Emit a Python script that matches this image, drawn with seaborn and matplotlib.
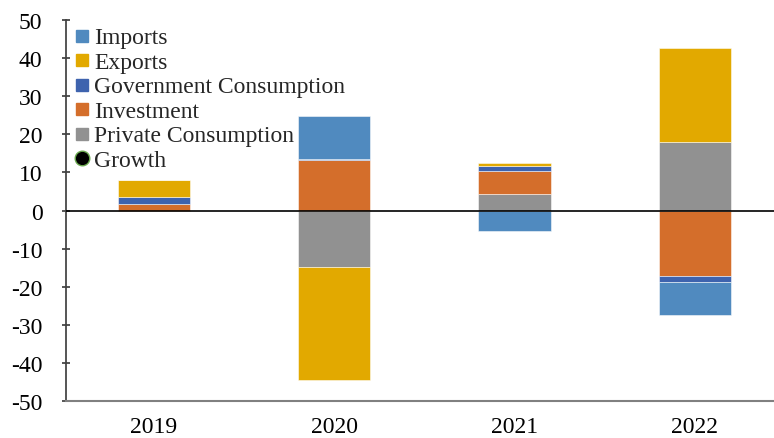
import numpy as np
import matplotlib
matplotlib.use("Agg")
import matplotlib.pyplot as plt
import seaborn as sns
from matplotlib.lines import Line2D

# contributions to growth, percentage points
years = ["2019", "2020", "2021", "2022"]
private_consumption = [0.0, -14.9, 4.3, 17.9]
investment = [1.7, 13.2, 6.2, -17.3]
government_consumption = [1.9, 0.4, 1.2, -1.5]
exports = [4.5, -29.5, 0.8, 24.7]
imports = [0.0, 11.1, -5.5, -8.6]

series = [
    ("Private Consumption", private_consumption, "#919191"),
    ("Investment", investment, "#d46e2b"),
    ("Government Consumption", government_consumption, "#3e63ae"),
    ("Exports", exports, "#e2a900"),
    ("Imports", imports, "#508abf"),
]

sns.set_theme(style="ticks")
plt.rcParams["font.family"] = ["Liberation Serif", "DejaVu Serif"]
plt.rcParams["axes.unicode_minus"] = False

fig = plt.figure(figsize=(7.74, 4.39), dpi=100)
ax = fig.add_axes([0.0853, 0.0843, 0.9147, 0.8677])

x = np.arange(len(years))
pos_base = np.zeros(len(years))
neg_base = np.zeros(len(years))
for name, vals, col in series:
    v = np.array(vals)
    bottom = np.where(v >= 0, pos_base, neg_base)
    ax.bar(x, v, width=0.4, bottom=bottom, color=col, edgecolor="#ffffff99",
           linewidth=0.6, zorder=2)
    pos_base += np.where(v >= 0, v, 0)
    neg_base += np.where(v < 0, v, 0)

ax.axhline(0, color="black", lw=1.2, zorder=3)

ax.set_xlim(-0.488, 3.44)
ax.set_ylim(-50, 50)
ax.set_yticks(range(-50, 51, 10))
ax.set_xticks(x)
ax.set_xticklabels(years)
ax.tick_params(axis="y", labelsize=17, length=6, direction="inout",
               color="#404040", pad=14)
ax.tick_params(axis="x", labelsize=17, length=0, pad=11)
for lab in ax.get_xticklabels() + ax.get_yticklabels():
    lab.set_color("black")

ax.spines["top"].set_visible(False)
ax.spines["right"].set_visible(False)
ax.spines["left"].set_color("#404040")
ax.spines["bottom"].set_color("#808080")
ax.spines["bottom"].set_linewidth(1.5)

handles = [Line2D([], [], marker="s", ls="none", markerfacecolor=col,
                  markeredgecolor=col, markersize=8.5, label=name)
           for name, vals, col in reversed(series)]
handles.append(Line2D([], [], marker="o", ls="none", markerfacecolor="black",
                      markeredgecolor="#6aa84f", markersize=10.5, label="Growth"))
ax.legend(handles=handles, loc="upper left", bbox_to_anchor=(0.006, 0.994),
          frameon=False, fontsize=17, handlelength=0.6, handleheight=0.45,
          handletextpad=0.22, labelspacing=0.15, borderaxespad=0.15,
          borderpad=0.05)

fig.savefig("out.png", dpi=100)
